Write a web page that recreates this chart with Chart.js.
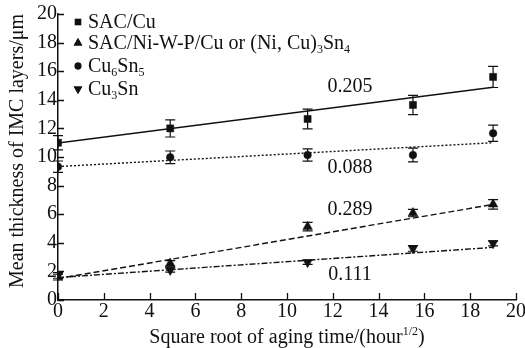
<!DOCTYPE html>
<html><head><meta charset="utf-8">
<script src="https://cdn.jsdelivr.net/npm/chart.js@4/dist/chart.umd.min.js"></script>
<style>html,body{margin:0;padding:0;background:#fff}</style>
</head><body>
<canvas id="c" width="525" height="348"></canvas>
<script>
// ---- data ----
const xValues = [0, 4.9, 10.9, 15.5, 19.0];
const sacCu = [11.0, 12.0, 12.66, 13.64, 15.6];
const sacCuErr = [0.5, 0.6, 0.69, 0.67, 0.74];
const niSn = [1.6, 2.56, 5.13, 6.08, 6.69];
const niSnErr = [0.2, 0.2, 0.3, 0.26, 0.33];
const cu6sn5 = [9.32, 9.98, 10.14, 10.14, 11.66];
const cu6sn5Err = [0.4, 0.44, 0.43, 0.48, 0.57];
const cu3sn = [1.72, 2.1, 2.64, 3.61, 3.96];
const cu3snErr = [0.2, 0.15, 0.15, 0.2, 0.17];
const fitX = [0, 19];
const sacCuFit = [10.98, 14.87];
const niSnFit = [1.5, 6.68];
const cu6sn5Fit = [9.33, 11.0];
const cu3snFit = [1.57, 3.68];
const slopeLabels = ['0.205', '0.088', '0.289', '0.111'];
const seriesLabels = ['SAC/Cu', 'SAC/Ni-W-P/Cu or (Ni, Cu)_3Sn_4', 'Cu_6Sn_5', 'Cu_3Sn'];
const xTitle = 'Square root of aging time/(hour^{1/2})';
const yTitle = 'Mean thickness of IMC layers/\u03bcm';
const xTicks = [0, 2, 4, 6, 8, 10, 12, 14, 16, 18, 20];
const yTicks = [0, 2, 4, 6, 8, 10, 12, 14, 16, 18, 20];

const FONT = "'Liberation Serif', 'Times New Roman', serif";
const INK = '#111';
const FS = 20;

function pts(xs, ys) { return xs.map((x, i) => ({ x: x, y: ys[i] })); }

const markerStyles = [
  { pointStyle: 'rect', radius: 5, rotation: 0 },
  { pointStyle: 'triangle', radius: 5.5, rotation: 0 },
  { pointStyle: 'circle', radius: 3.8, rotation: 0 },
  { pointStyle: 'triangle', radius: 5.5, rotation: 180 }
];
const seriesVals = [sacCu, niSn, cu6sn5, cu3sn];
const seriesErrs = [sacCuErr, niSnErr, cu6sn5Err, cu3snErr];
const fits = [sacCuFit, niSnFit, cu6sn5Fit, cu3snFit];
const dashes = [[], [6, 3], [2, 2], [6, 2, 2, 2]];

const datasets = [];
fits.forEach((f, i) => {
  datasets.push({
    type: 'line', data: pts(fitX, f), borderColor: INK, borderWidth: i === 0 ? 1.5 : 1.4,
    borderDash: dashes[i], pointRadius: 0, fill: false, tension: 0
  });
});
seriesVals.forEach((v, i) => {
  datasets.push({
    type: 'scatter', label: seriesLabels[i], data: pts(xValues, v),
    pointStyle: markerStyles[i].pointStyle, pointRadius: markerStyles[i].radius,
    pointRotation: markerStyles[i].rotation, backgroundColor: INK, borderColor: INK,
    borderWidth: 0.5
  });
});

// rich text: _d subscript, ^{..} superscript
function parseRich(s) {
  const parts = [];
  const re = /(_\d|\^\{[^}]*\})/g;
  let last = 0, m;
  while ((m = re.exec(s))) {
    if (m.index > last) parts.push({ t: s.slice(last, m.index), k: 'n' });
    if (m[0][0] === '_') parts.push({ t: m[0].slice(1), k: 'sub' });
    else parts.push({ t: m[0].slice(2, -1), k: 'sup' });
    last = m.index + m[0].length;
  }
  if (last < s.length) parts.push({ t: s.slice(last), k: 'n' });
  return parts;
}
function richWidth(ctx, parts, size) {
  let w = 0;
  parts.forEach(p => {
    ctx.font = (p.k === 'n' ? size : Math.round(size * 0.6)) + 'px ' + FONT;
    w += ctx.measureText(p.t).width;
  });
  return w;
}
function drawRich(ctx, s, x, y, size, align) {
  const parts = parseRich(s);
  let cx = x;
  if (align === 'center') cx = x - richWidth(ctx, parts, size) / 2;
  ctx.textBaseline = 'alphabetic';
  ctx.textAlign = 'left';
  parts.forEach(p => {
    let dy = 0, fs = size;
    if (p.k === 'sub') { fs = Math.round(size * 0.6); dy = size * 0.2; }
    if (p.k === 'sup') { fs = Math.round(size * 0.6); dy = -size * 0.42; }
    ctx.font = fs + 'px ' + FONT;
    ctx.fillText(p.t, cx, y + dy);
    cx += ctx.measureText(p.t).width;
  });
}

const decor = {
  id: 'decor',
  beforeDatasetsDraw(chart) {
    const ctx = chart.ctx, xs = chart.scales.x, ys = chart.scales.y;
    ctx.save();
    ctx.strokeStyle = INK; ctx.lineWidth = 1.2;
    seriesVals.forEach((vals, i) => {
      vals.forEach((v, j) => {
        const px = xs.getPixelForValue(xValues[j]);
        const top = ys.getPixelForValue(v + seriesErrs[i][j]);
        const bot = ys.getPixelForValue(v - seriesErrs[i][j]);
        ctx.beginPath();
        ctx.moveTo(px, top); ctx.lineTo(px, bot);
        ctx.moveTo(px - 5, top); ctx.lineTo(px + 5, top);
        ctx.moveTo(px - 5, bot); ctx.lineTo(px + 5, bot);
        ctx.stroke();
      });
    });
    ctx.restore();
  },
  afterDraw(chart) {
    const ctx = chart.ctx, xs = chart.scales.x, ys = chart.scales.y, ca = chart.chartArea;
    ctx.save();
    ctx.strokeStyle = INK; ctx.fillStyle = INK; ctx.lineWidth = 1.3;
    // inward ticks
    ctx.beginPath();
    xTicks.forEach(t => { const p = Math.round(xs.getPixelForValue(t)) + 0.5; ctx.moveTo(p, ca.bottom); ctx.lineTo(p, ca.bottom - 7); });
    yTicks.forEach(t => { const p = Math.round(ys.getPixelForValue(t)) + 0.5; ctx.moveTo(ca.left, p); ctx.lineTo(ca.left + 6, p); });
    ctx.stroke();
    // slope annotations
    const annPos = [[12.75, 14.55], [12.75, 8.88], [12.75, 5.94], [12.75, 1.4]];
    ctx.font = FS + 'px ' + FONT; ctx.textAlign = 'center'; ctx.textBaseline = 'alphabetic';
    slopeLabels.forEach((s, i) => {
      ctx.fillText(s, xs.getPixelForValue(annPos[i][0]), ys.getPixelForValue(annPos[i][1]));
    });
    // legend
    const rowsY = [28, 49, 72, 95];
    const legSizes = [4.5, 5, 3.4, 5];
    seriesLabels.forEach((s, i) => {
      const my = rowsY[i] - 6;
      Chart.helpers.drawPoint(ctx, { pointStyle: markerStyles[i].pointStyle, radius: legSizes[i], rotation: markerStyles[i].rotation, borderWidth: 0 }, 78, my);
      ctx.fill();
      drawRich(ctx, s, 88, rowsY[i], FS, 'left');
    });
    // axis titles
    drawRich(ctx, xTitle, (ca.left + ca.right) / 2, 343, FS, 'center');
    ctx.save();
    ctx.translate(23, 151);
    ctx.rotate(-Math.PI / 2);
    drawRich(ctx, yTitle, 0, 0, FS, 'center');
    ctx.restore();
    ctx.restore();
  }
};

new Chart(document.getElementById('c'), {
  data: { datasets: datasets },
  plugins: [decor],
  options: {
    responsive: false, devicePixelRatio: 1, animation: false,
    layout: { padding: { top: 14, right: 9, bottom: 0, left: 0 } },
    plugins: { legend: { display: false }, tooltip: { enabled: false } },
    scales: {
      x: {
        type: 'linear', min: 0, max: 20,
        ticks: { stepSize: 2, font: { size: FS, family: FONT }, color: INK, padding: 0, maxRotation: 0 },
        grid: { display: false, drawTicks: false },
        border: { display: true, color: INK, width: 1.5 },
        afterFit(s) { s.height = 48; s.paddingLeft = 0; s.paddingRight = 0; }
      },
      y: {
        type: 'linear', min: 0, max: 20,
        ticks: { stepSize: 2, font: { size: FS, family: FONT }, color: INK, padding: 1 },
        grid: { display: false, drawTicks: false },
        border: { display: true, color: INK, width: 1.5 },
        afterFit(s) { s.width = 58; s.paddingTop = 0; s.paddingBottom = 0; }
      }
    }
  }
});
</script>
</body></html>
